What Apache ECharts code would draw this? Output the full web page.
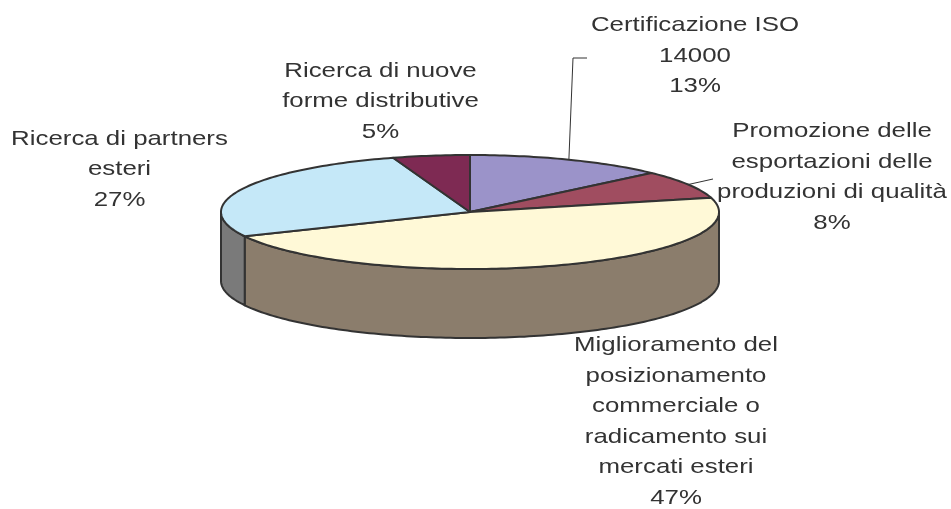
<!DOCTYPE html>
<html>
<head>
<meta charset="utf-8">
<script src="https://cdn.jsdelivr.net/npm/echarts@6/dist/echarts.min.js"></script>
<style>
  html, body { margin: 0; padding: 0; background: #fff; }
  #main { width: 951px; height: 509px; }
</style>
</head>
<body>
<div id="main"></div>
<script>
// slice names (line breaks as in the original labels) and shares in %
var categories = [
  'Certificazione ISO\n14000',
  'Promozione delle\nesportazioni delle\nproduzioni di qualità',
  'Miglioramento del\nposizionamento\ncommerciale o\nradicamento sui\nmercati esteri',
  'Ricerca di partners\nesteri',
  'Ricerca di nuove\nforme distributive'
];
var shares = [13, 8, 47, 27, 5];

// look
var topColors = ['#9b93c9', '#a04d60', '#fff9d7', '#c5e8f8', '#7e2a53'];
var sideColors = ['#6e6890', '#733744', '#8b7d6c', '#7a7a7a', '#5a1e3b'];

// pie geometry (tilted ellipse)
var cx = 470, cy = 212, rx = 249, ry = 57, depth = 69;

// where each label sits and where its leader line bends
var labelAt = [[695, 56], [832, 177], [676, 421.5], [119.5, 169.5], [380.5, 101.5]];
var leaderTo = [[[573, 58], [587, 58]], [[713, 179]], null, null, null];

var total = shares.reduce(function (a, b) { return a + b; }, 0);

function pt(t, dy) {
  return [cx + rx * Math.sin(t), cy - ry * Math.cos(t) + (dy || 0)];
}

function arc(a, b, dy) {
  var pts = [];
  var n = Math.max(2, Math.ceil((b - a) / 0.02));
  for (var i = 0; i <= n; i++) pts.push(pt(a + (b - a) * i / n, dy));
  return pts;
}

function renderItem(params, api) {
  var i = params.dataIndex;
  var before = 0;
  for (var k = 0; k < i; k++) before += shares[k];
  var a = before / total * Math.PI * 2;
  var b = (before + api.value(0)) / total * Math.PI * 2;
  var children = [];

  // front wall: only the part facing the viewer
  var s = Math.max(a, Math.PI / 2), e = Math.min(b, Math.PI * 1.5);
  if (e > s) {
    var side = arc(s, e, 0).concat(arc(s, e, depth).reverse());
    children.push({
      type: 'polygon', z2: 1,
      shape: { points: side },
      style: { fill: sideColors[i], stroke: '#333', lineWidth: 2, lineJoin: 'round' }
    });
  }

  // top face
  children.push({
    type: 'polygon', z2: 5,
    shape: { points: [[cx, cy]].concat(arc(a, b, 0)) },
    style: { fill: topColors[i], stroke: '#333', lineWidth: 2, lineJoin: 'round' }
  });

  // leader line
  if (leaderTo[i]) {
    children.push({
      type: 'polyline', z2: 6,
      shape: { points: [pt((a + b) / 2, 0)].concat(leaderTo[i]) },
      style: { stroke: '#333', lineWidth: 1, fill: null }
    });
  }

  // label
  children.push({
    type: 'text', z2: 10,
    x: labelAt[i][0], y: labelAt[i][1], scaleX: 1.23,
    style: {
      text: categories[i] + '\n' + Math.round(api.value(0) / total * 100) + '%',
      fill: '#333',
      font: '21px "Liberation Sans", Arial, sans-serif',
      align: 'center',
      verticalAlign: 'middle',
      lineHeight: 30.5
    }
  });

  return { type: 'group', children: children };
}

var chart = echarts.init(document.getElementById('main'), null, { renderer: 'canvas' });
chart.setOption({
  animation: false,
  backgroundColor: '#ffffff',
  series: [{
    type: 'custom',
    coordinateSystem: 'none',
    renderItem: renderItem,
    data: shares.map(function (v, i) { return { name: categories[i], value: [v] }; })
  }]
});
</script>
</body>
</html>
